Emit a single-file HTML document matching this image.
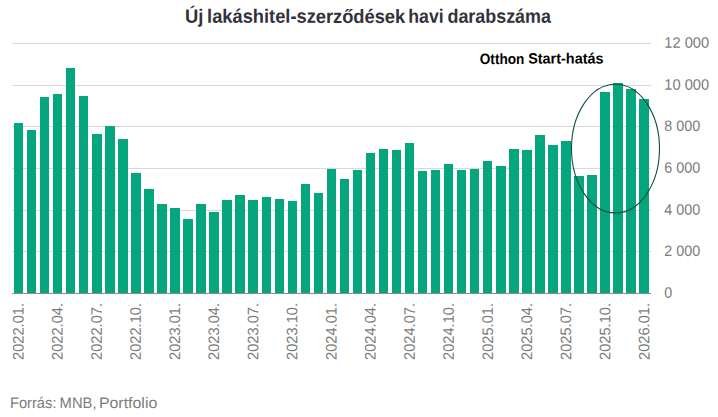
<!DOCTYPE html>
<html><head><meta charset="utf-8"><title>chart</title>
<style>
html,body{margin:0;padding:0;background:#fff;}
body{width:718px;height:417px;overflow:hidden;font-family:"Liberation Sans",sans-serif;}
svg{display:block;}
text{font-family:"Liberation Sans",sans-serif;}
.yl{font-size:15.2px;fill:#7c7c7c;}
.xl{font-size:15.2px;fill:#7c7c7c;}
</style></head><body>
<svg width="718" height="417" viewBox="0 0 718 417">
<rect width="718" height="417" fill="#ffffff"/>
<text transform="translate(184.9,22.8) rotate(0.04)" font-size="19.3px" font-weight="bold" fill="#32323a" textLength="18.35" lengthAdjust="spacingAndGlyphs">Új</text>
<text transform="translate(207.1,22.8) rotate(0.04)" font-size="19.3px" font-weight="bold" fill="#32323a" textLength="198.1" lengthAdjust="spacingAndGlyphs">lakáshitel-szerződések</text>
<text transform="translate(408.3,22.8) rotate(0.04)" font-size="19.3px" font-weight="bold" fill="#32323a" textLength="35.3" lengthAdjust="spacingAndGlyphs">havi</text>
<text transform="translate(447.45,22.8) rotate(0.04)" font-size="19.3px" font-weight="bold" fill="#32323a" textLength="103.5" lengthAdjust="spacingAndGlyphs">darabszáma</text>
<g shape-rendering="crispEdges" fill="#d9d9d9">
<rect x="12" y="43" width="639" height="1"/>
<rect x="12" y="85" width="639" height="1"/>
<rect x="12" y="126" width="639" height="1"/>
<rect x="12" y="168" width="639" height="1"/>
<rect x="12" y="210" width="639" height="1"/>
<rect x="12" y="251" width="639" height="1"/>
</g>
<g shape-rendering="crispEdges" fill="#05a57d">
<rect x="14" y="123" width="9" height="170"/>
<rect x="27" y="130" width="9" height="163"/>
<rect x="40" y="97" width="9" height="196"/>
<rect x="53" y="94" width="9" height="199"/>
<rect x="66" y="68" width="9" height="225"/>
<rect x="79" y="96" width="9" height="197"/>
<rect x="92" y="134" width="10" height="159"/>
<rect x="105" y="126" width="10" height="167"/>
<rect x="118" y="139" width="10" height="154"/>
<rect x="131" y="173" width="10" height="120"/>
<rect x="144" y="189" width="10" height="104"/>
<rect x="157" y="204" width="10" height="89"/>
<rect x="170" y="208" width="10" height="85"/>
<rect x="183" y="219" width="10" height="74"/>
<rect x="196" y="204" width="10" height="89"/>
<rect x="209" y="212" width="10" height="81"/>
<rect x="222" y="200" width="10" height="93"/>
<rect x="235" y="195" width="10" height="98"/>
<rect x="248" y="200" width="10" height="93"/>
<rect x="262" y="197" width="9" height="96"/>
<rect x="275" y="199" width="9" height="94"/>
<rect x="288" y="201" width="9" height="92"/>
<rect x="301" y="184" width="9" height="109"/>
<rect x="314" y="193" width="9" height="100"/>
<rect x="327" y="169" width="9" height="124"/>
<rect x="340" y="179" width="9" height="114"/>
<rect x="353" y="170" width="9" height="123"/>
<rect x="366" y="153" width="9" height="140"/>
<rect x="379" y="149" width="9" height="144"/>
<rect x="392" y="150" width="9" height="143"/>
<rect x="405" y="143" width="9" height="150"/>
<rect x="418" y="171" width="9" height="122"/>
<rect x="431" y="170" width="9" height="123"/>
<rect x="444" y="164" width="9" height="129"/>
<rect x="457" y="170" width="9" height="123"/>
<rect x="470" y="169" width="9" height="124"/>
<rect x="483" y="161" width="9" height="132"/>
<rect x="496" y="166" width="10" height="127"/>
<rect x="509" y="149" width="10" height="144"/>
<rect x="522" y="150" width="10" height="143"/>
<rect x="535" y="135" width="10" height="158"/>
<rect x="548" y="145" width="10" height="148"/>
<rect x="561" y="141" width="10" height="152"/>
<rect x="574" y="176" width="10" height="117"/>
<rect x="587" y="175" width="10" height="118"/>
<rect x="600" y="92" width="10" height="201"/>
<rect x="613" y="83" width="10" height="210"/>
<rect x="626" y="89" width="10" height="204"/>
<rect x="639" y="99" width="10" height="194"/>
</g>
<rect x="12" y="293" width="639" height="1" fill="#8c8c8c" shape-rendering="crispEdges"/>
<text class="yl" transform="translate(664.3,47.7) rotate(0.04) scale(0.966,1)">12 000</text>
<text class="yl" transform="translate(664.3,89.7) rotate(0.04) scale(0.966,1)">10 000</text>
<text class="yl" transform="translate(664.3,131.0) rotate(0.04) scale(0.944,1)">8 000</text>
<text class="yl" transform="translate(664.3,172.8) rotate(0.04) scale(0.944,1)">6 000</text>
<text class="yl" transform="translate(664.3,214.8) rotate(0.04) scale(0.944,1)">4 000</text>
<text class="yl" transform="translate(664.3,256.0) rotate(0.04) scale(0.944,1)">2 000</text>
<text class="yl" transform="translate(664.3,297.8) rotate(0.04) scale(0.94,1)">0</text>
<text class="xl" text-anchor="end" transform="translate(23.42,303) rotate(-90.04) scale(0.962,1)">2022.01.</text>
<text class="xl" text-anchor="end" transform="translate(62.54,303) rotate(-90.04) scale(0.962,1)">2022.04.</text>
<text class="xl" text-anchor="end" transform="translate(101.66,303) rotate(-90.04) scale(0.962,1)">2022.07.</text>
<text class="xl" text-anchor="end" transform="translate(140.78,303) rotate(-90.04) scale(0.962,1)">2022.10.</text>
<text class="xl" text-anchor="end" transform="translate(179.90,303) rotate(-90.04) scale(0.962,1)">2023.01.</text>
<text class="xl" text-anchor="end" transform="translate(219.02,303) rotate(-90.04) scale(0.962,1)">2023.04.</text>
<text class="xl" text-anchor="end" transform="translate(258.14,303) rotate(-90.04) scale(0.962,1)">2023.07.</text>
<text class="xl" text-anchor="end" transform="translate(297.26,303) rotate(-90.04) scale(0.962,1)">2023.10.</text>
<text class="xl" text-anchor="end" transform="translate(336.38,303) rotate(-90.04) scale(0.962,1)">2024.01.</text>
<text class="xl" text-anchor="end" transform="translate(375.50,303) rotate(-90.04) scale(0.962,1)">2024.04.</text>
<text class="xl" text-anchor="end" transform="translate(414.62,303) rotate(-90.04) scale(0.962,1)">2024.07.</text>
<text class="xl" text-anchor="end" transform="translate(453.74,303) rotate(-90.04) scale(0.962,1)">2024.10.</text>
<text class="xl" text-anchor="end" transform="translate(492.86,303) rotate(-90.04) scale(0.962,1)">2025.01.</text>
<text class="xl" text-anchor="end" transform="translate(531.98,303) rotate(-90.04) scale(0.962,1)">2025.04.</text>
<text class="xl" text-anchor="end" transform="translate(571.10,303) rotate(-90.04) scale(0.962,1)">2025.07.</text>
<text class="xl" text-anchor="end" transform="translate(610.22,303) rotate(-90.04) scale(0.962,1)">2025.10.</text>
<text class="xl" text-anchor="end" transform="translate(649.34,303) rotate(-90.04) scale(0.962,1)">2026.01.</text>
<ellipse cx="615.5" cy="148.6" rx="44" ry="64.3" fill="none" stroke="#14503e" stroke-width="1.1"/>
<text transform="translate(479.78,63.55) rotate(0.03)" font-size="14.9px" font-weight="bold" fill="#000" textLength="44.6" lengthAdjust="spacingAndGlyphs">Otthon</text>
<text transform="translate(528.15,63.55) rotate(0.03)" font-size="14.9px" font-weight="bold" fill="#000" textLength="75.4" lengthAdjust="spacingAndGlyphs">Start-hatás</text>
<text transform="translate(9.9,408.0) rotate(0.03)" font-size="15.2px" fill="#7c7c7c" textLength="46.6" lengthAdjust="spacingAndGlyphs">Forrás:</text>
<text transform="translate(59.6,408.0) rotate(0.03)" font-size="15.2px" fill="#7c7c7c" textLength="36.9" lengthAdjust="spacingAndGlyphs">MNB,</text>
<text transform="translate(98.9,408.0) rotate(0.03)" font-size="15.2px" fill="#7c7c7c" textLength="58.4" lengthAdjust="spacingAndGlyphs">Portfolio</text>
</svg>
</body></html>
